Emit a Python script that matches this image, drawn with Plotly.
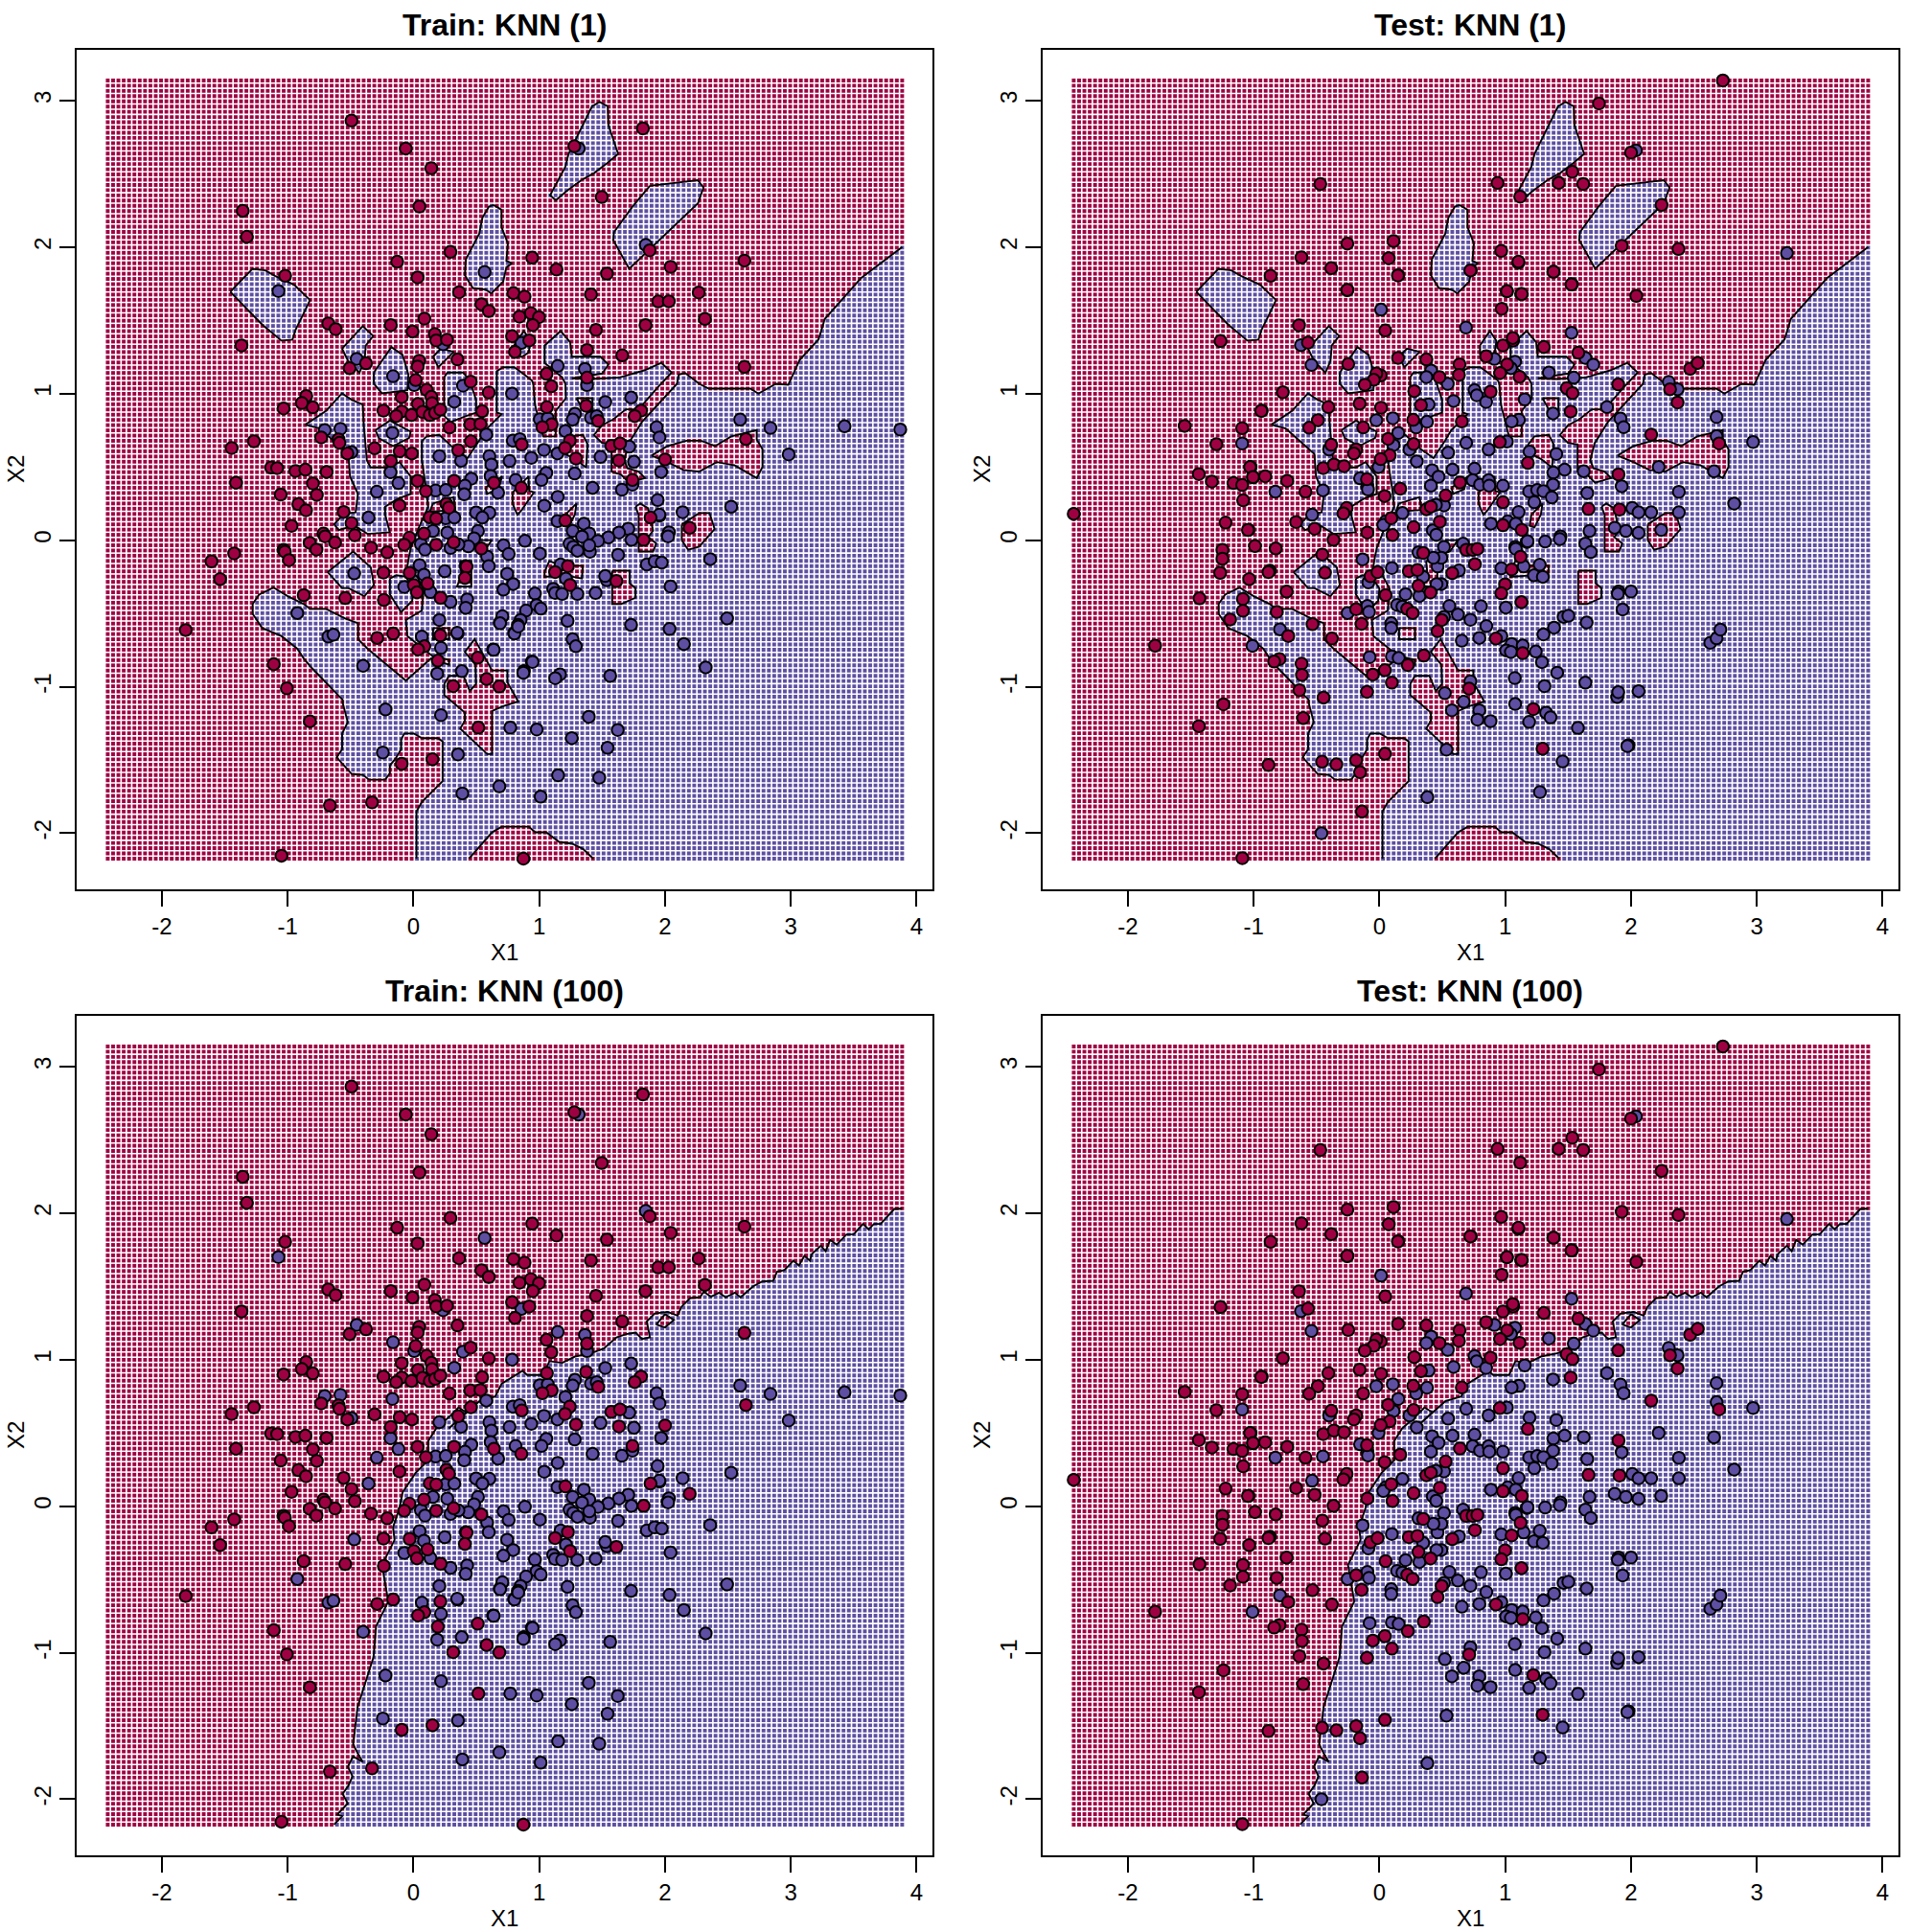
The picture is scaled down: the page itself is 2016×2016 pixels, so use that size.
import numpy as np
import plotly.graph_objects as go

RED = "#9E0142"
BLUE = "#5E4FA2"

TICKS_X = [-2, -1, 0, 1, 2, 3, 4]
TICKS_Y = [-2, -1, 0, 1, 2, 3]
TITLES = ["Train: KNN (1)", "Test: KNN (1)", "Train: KNN (100)", "Test: KNN (100)"]
XLABEL = "X1"
YLABEL = "X2"
GRID_X_LIMITS = (-2.43, 3.885)
GRID_Y_LIMITS = (-2.173, 3.137)
GRID_N = 150

TRAIN_RED = [
(.363,1.692),(.795,1.686),(.883,1.662),(1.411,1.677),(1.946,1.629),(2.03,1.63),(.541,1.61),(.599,1.564),(.087,1.512),(.843,1.525),
(.934,1.549),(.998,1.522),(.949,1.468),(-.677,1.479),(-.618,1.44),(-.18,1.468),(-.007,1.424),(.17,1.407),(.181,1.363),(.267,1.368),
(1.451,1.435),(1.845,1.468),(.784,1.392),(.921,1.363),(.807,1.285),(1.38,1.298),(1.66,1.261),(.35,1.233),(.046,1.224),(.034,1.185),
(-.377,1.207),(-.507,1.174),(1.058,1.135),(1.38,1.109),(.018,1.093),(.455,1.082),(1.096,1.05),(.599,1.008),(.105,1.026),(-.093,.976),
(-.852,.984),(-.887,.936),(-.8,.906),(.143,.978),(.148,.934),(.036,.93),(-.238,.884),(-.093,.878),(-.137,.847),(-.015,.854),
(.072,.875),(.13,.854),(.173,.869),(.214,.891),(.546,.88),(1.061,.908),(1.373,.917),(1.809,.884),(1.759,.847),(1.469,.814),
(.452,.79),(.533,.793),(.287,.769),(1.099,.79),(1.025,.771),(-.733,.701),(-.596,.688),(1.243,.679),(1.205,.629),(.457,.675),
(.861,.653),(-.309,.627),(-.525,.592),(-.109,.607),(-.012,.592),(.356,.614),(1.573,.644),(1.642,.66),(1.292,.557),(1.634,.544),
(2.0,.551),(-.18,.54),(-.938,.472),(-.859,.481),(-.69,.466),(-.799,.387),(-.768,.309),(.033,.405),(.323,.405),(.64,.392),
(.858,.357),(1.741,.411),(.099,.335),(.262,.248),(.282,.222),(-.111,.237),(-.915,.246),(-.854,.204),(-.555,.193),(-.492,.117),
(-.969,.098),(-.466,.034),(-.715,.045),(-.702,.026),(-.623,-.016),(-.824,-.018),(-.771,-.064),(-.337,-.051),(-.208,-.083),(.13,.156),
(.181,.148),(1.208,.135),(1.885,.154),(.084,.045),(-.032,.017),(-.073,-.031),(.181,-.031),(.32,-.014),(.54,-.057),(1.83,.002),
(.417,-.177),(1.228,-.177),(-.588,.664),
(-.492,2.863),(-.061,2.673),(.142,2.538),(-1.357,2.248),(.048,2.277),(-1.324,2.07),(.294,1.967),(.944,1.928),(-.129,1.9),(-1.02,1.804),
(.033,1.793),(-1.367,1.329),(1.279,2.688),(1.824,2.81),(1.497,2.342),(1.137,1.847),(1.538,1.819),(1.878,1.978),(2.045,1.865),(2.631,1.908),
(2.268,1.69),(2.317,1.51),(2.631,1.183),
(2.643,.69),(2.196,.084),(1.613,-.279),(1.245,-.306),(1.126,-.218),
(-1.11,-.846),(-1.006,-1.011),(-.823,-1.236),(-.288,-.667),(-.161,-.637),(.214,-.65),(.087,-.724),(.037,-.746),(.194,-.822),(.511,-.802),
(.582,-.948),(.683,-.998),(.316,-.996),(.516,-1.279),(-.093,-1.526),(.151,-1.495),(-.664,-1.811),(-.329,-1.789),(-1.049,-2.153),(.874,-2.173),
(-1.81,-.613),(-1.605,-.144),(-1.537,-.266),(-1.425,-.09),(-1.445,.629),(-1.268,.675),(-1.41,.392),(-1.131,.496),(-1.083,.492),(-1.055,.311),
(-1.032,-.066),(-1.022,-.079),(-.989,-.136),(-.872,-.375),(-.542,-.395),(-.235,-.408),(-.238,-.221),(-1.032,.899),
(.112,-.295),(-.03,-.223),(.003,-.306),(.028,-.356),(.216,-.393),(.422,-.181),(.409,-.258),
]

TRAIN_BLUE = [
(-.451,1.237),(-.162,1.119),(.006,1.058),(.236,1.337),(.858,1.346),(.394,1.054),(.784,1.0),(.325,.945),(1.147,1.189),(1.363,1.169),
(1.38,1.058),(1.525,.943),(1.731,.973),(-.705,.751),(-.58,.76),(-.167,.732),(-.492,.601),(1.005,.825),(1.068,.832),(1.284,.862),
(1.266,.823),(1.411,.836),(1.457,.847),(1.933,.771),(1.956,.701),(.579,.721),(.79,.679),(.845,.69),(1.208,.745),(1.038,.616),
(1.145,.592),(1.487,.568),(1.716,.638),(1.753,.535),(1.969,.466),(.206,.573),(.379,.542),(.604,.573),(.62,.516),(.764,.54),
(.937,.562),(.614,.438),(1.056,.459),(1.018,.411),(1.282,.455),(.46,.42),(.409,.372),(.404,.313),(.176,.339),(.257,.342),
(-.119,.39),(-.182,.464),(-.291,.331),(.812,.411),(.673,.324),(1.424,.357),(1.657,.344),(1.741,.379),(1.941,.274),(1.147,.296),
(1.04,.235),(-.357,.154),(.257,.15),(.325,.154),(.498,.189),(.604,.187),(.548,.154),(1.956,.167),(1.145,.13),(1.355,.113),
(1.266,.063),(1.708,.078),(1.634,.052),(2.02,.03),(1.398,.045),(1.34,.024),(1.55,.019),(1.467,-.005),(1.733,.002),(.886,-.004),
(1.241,-.024),(1.271,-.046),(1.304,-.072),(1.403,-.079),(1.398,-.035),(1.627,-.1),(1.005,-.092),(.716,-.035),(.757,-.094),(.513,.063),
(.482,.013),(.437,-.042),(.586,-.111),(.269,.052),(.155,.063),(.059,-.027),(.092,-.064),(.295,-.053),(.358,-.029),(.049,-.17),
(.599,-.177),(1.17,-.166),(1.855,-.166),(1.918,-.144),(1.974,-.153),
(-1.073,1.7),(.566,1.83),(1.314,2.673),(1.847,2.015),
(3.427,.777),(2.838,.766),(2.597,.823),(2.983,.585),(2.526,.228),(2.359,-.129),(2.493,-.534),(2.15,-.709),(2.036,-.606),(2.323,-.868),
(2.044,-.316),(2.14,.191),(2.031,.054),(2.024,.026),(1.955,.174),(1.73,-.578),(1.225,-.55),(1.448,-.36),(3.87,.755),
(1.537,-.273),(1.524,-.245),(1.111,-.332),(1.126,-.36),(1.182,-.367),(1.303,-.367),(1.212,-.262),(.966,-.364),(.979,-.443),(1.012,-.467),
(.895,-.48),(.852,-.545),(.831,-.578),(.801,-.632),(.687,-.563),(.707,-.519),(.745,-.229),(.793,-.299),(.715,-.338),(1.265,-.676),
(1.291,-.724),(.941,-.828),(.634,-.746),(.877,-.894),
(-.676,-.658),(-.636,-.645),(.067,-.658),(.219,-.735),(.351,-.637),(.638,-.748),(.803,-.637),(.833,-.589),(.689,-.567),(.947,-.831),
(.874,-.905),(1.165,-.916),(1.127,-.942),(1.564,-.926),(.189,-.911),(.384,-.894),(-.4,-.857),(-.222,-1.155),(.219,-1.194),(.77,-1.279),
(.98,-1.292),(1.259,-1.351),(1.394,-1.205),(1.624,-1.295),(1.543,-1.417),(-.243,-1.449),(.354,-1.462),(1.15,-1.604),(1.477,-1.621),(.683,-1.68),
(.389,-1.728),(1.011,-1.75),
(-.923,-.497),(-.471,-.227),(.206,-.545),(.348,-.632),(-.073,-.319),(.084,-.236),(.135,-.354),(.295,-.421),(.427,-.404),(.416,-.462),(.249,-.212),
]

TEST_RED = [
(-.865,1.804),(-.383,1.856),(.15,1.808),(.726,1.841),(1.104,1.893),(1.383,1.832),(1.53,1.747),(-.256,1.706),(1.013,1.699),(1.127,1.68),
(.972,1.579),(-.639,1.466),(.046,1.431),(-.568,1.348),(.982,1.329),(1.063,1.362),(1.307,1.318),(-.248,1.202),(.148,1.244),(.373,1.233),
(.637,1.2),(.632,1.128),(.848,1.255),(1.015,1.2),(.959,1.141),(1.114,1.115),(1.581,1.279),(.01,1.124),(-.025,1.137),(-.045,1.094),
(-.116,1.061),(.477,1.113),(.883,1.013),(.277,1.017),(-.768,1.009),(1.489,1.037),(1.535,1.004),(1.898,1.063),(-.157,.932),(.33,.921),
(-.406,.908),(.013,.904),(-.936,.884),(-.489,.819),(.269,.821),(-.558,.767),(-.129,.769),(.655,.81),(1.52,.878),(.069,.691),
(.272,.656),(.957,.669),(-.383,.651),(-.185,.619),(-.203,.592),(.082,.579),(.01,.553),(-1.024,.499),(-1.004,.429),(-.908,.436),
(-.446,.492),(-.362,.516),(-.281,.505),(1.18,.527),(-.733,.405),(-.099,.416),(-.588,.331),(.64,.394),(1.9,.449),(.165,.351),
(.041,.301),(.526,.305),(.982,.259),(1.662,.213),(1.908,.209),(-.261,.22),(-.286,.183),(.373,.211),(.409,.229),(.094,.15),
(-.662,.124),(-.515,.078),(.48,.126),(.272,.089),(.982,.102),(1.132,.07),(-.096,.052),(.104,.035),(-1.04,.07),(-.365,.002),
(-.989,-.04),(-.824,-.057),
(2.73,3.137),(1.745,2.98),(2.0,2.645),(1.533,2.514),(1.425,2.438),(1.62,2.431),(.939,2.438),(1.119,2.344),(2.243,2.288),(-.255,2.024),
(.112,2.041),(.074,1.924),(.147,1.806),(.968,1.974),(1.105,1.9),(.723,1.841),(1.384,1.832),(1.926,2.009),(2.377,1.987),(1.527,1.745),
(-.255,1.708),(1.014,1.699),(1.131,1.68),(2.042,1.667),(1.06,1.38),(-.62,1.93),(-.47,2.43),
(2.47,1.17),(2.53,1.21),(2.31,1.03),(2.37,.94),(2.16,.72),(2.7,.66),(-2.43,.18),
(-.454,-.098),(-.87,-.209),(-.882,-.218),(-.433,-.222),(-1.035,-.266),(-.738,-.351),(-.071,-.246),(-.015,-.218),(.049,-.375),(.234,-.211),
(.302,-.203),(.31,-.312),(.406,-.357),(.579,-.225),(.759,-.164),(.69,-.066),(.741,-.066),(.779,-.059),(.348,-.087),(1.122,-.113),
(1.051,-.2),(.999,-.301),(.969,-.362),(1.129,-.423),(-.185,-.471),(-.142,-.571),(.221,-.469),(.264,-.497),(-.816,-.49),(-.532,-.573),
(-.378,-.671),(-.725,-.654),(-.794,-.811),(-.837,-.828),(-.619,-.843),(-.616,-.92),(-.636,-1.024),(-.444,-1.074),(-.606,-1.214),(.495,-.545),
(.462,-.621),(.926,-.671),(1.139,-.771),(.353,-.787),(.226,-.852),(.043,-.887),(-.053,-.917),(.099,-.972),(-.099,-1.035),(.713,-1.013),
(1.223,-1.153),(1.297,-1.423),(.044,-1.458),(-.456,-1.512),(-.342,-1.53),(-.185,-1.501),(-.154,-1.584),(-.882,-1.534),(-.139,-1.852),
(-1.43,-.397),(-1.085,-.401),(-1.085,-.482),(-1.187,-.541),(-1.783,-.72),(-1.24,-1.12),(-1.435,-1.269),(-1.09,-2.17),
(-1.548,.78),(-1.296,.655),(-1.091,.764),(-1.263,1.359),(-1.436,.451),(-1.332,.4),(-1.028,.499),(-1.005,.431),(-1.16,.39),(-1.091,.377),
(-1.083,.272),(-1.223,.12),(-1.045,.07),(-1.248,-.066),(-1.248,-.127),(-1.266,-.223),(-.939,.882),
]

TEST_BLUE = [
(.013,1.573),(.688,1.451),(1.527,1.416),(-.624,1.331),(-.54,1.196),(.914,1.237),(1.078,1.218),(1.045,1.174),(1.347,1.144),(1.637,1.244),
(1.7,1.198),(1.545,1.109),(.411,1.157),(.373,1.113),(.543,1.067),(.756,1.024),(.774,.989),(.848,.943),(.589,.95),(1.155,.961),
(.391,.926),(1.809,.908),(1.38,.865),(1.109,.821),(1.051,.81),(1.916,.83),(1.941,.771),(-.025,.819),(.107,.832),(.378,.808),
(.292,.769),(.15,.732),(.112,.649),(.239,.619),(.69,.664),(1.013,.673),(.868,.619),(-.4,.619),(1.193,.605),(1.406,.588),
(.546,.597),(.297,.538),(-.007,.499),(.419,.477),(.47,.433),(.581,.481),(.756,.488),(1.472,.481),(1.624,.471),(1.383,.462),
(.741,.409),(.8,.379),(.868,.409),(.873,.372),(.409,.372),(.982,.372),(1.38,.379),(1.926,.368),(-.154,.422),(-.096,.368),
(-.091,.346),(-.827,.331),(-.449,.34),(1.19,.333),(1.254,.342),(1.304,.335),(1.37,.292),(1.231,.259),(1.652,.322),(.513,.237),
(.449,.242),(1.106,.192),(.183,.185),(-.535,.174),(.049,.128),(.031,.104),(.886,.113),(1.02,.128),(1.084,.113),(.424,.067),
(.452,.037),(1.67,.063),(1.87,.085),(1.959,.063),(1.439,.026),(1.434,.007),(1.317,-.009),(1.172,-.013),(1.079,-.046),(.665,-.024),
(.513,-.046),(1.637,-.024),
(2.039,2.66),(3.239,1.959),
(2.3,1.08),(2.97,.67),(2.68,.71),(2.68,.84),(2.37,1.03),(2.82,.25),(2.38,.19),
(2.01,.22),(2.06,.19),(2.16,.19),(2.38,.33),(2.66,.47),(2.06,.05),(2.24,.07),(1.9,-.35),(2.0,-.35),(2.63,-.7),(2.68,-.67),(2.71,-.61),
(2.06,-1.03),(1.89,-1.07),(1.98,-1.4),(2.22,.5),
(-.791,-.608),(-1.009,-.721),(-.134,-.131),(.099,-.19),(-.088,-.288),(.348,-.25),(.462,-.179),(.492,-.12),(.429,-.12),(.31,-.083),
(1.084,-.059),(1.177,-.007),(1.68,-.081),(.969,-.192),(.632,-.207),(1.147,-.179),(1.274,-.168),(1.228,-.24),(1.299,-.25),(.492,-.299),
(.454,-.299),(.208,-.368),(.318,-.381),(.14,-.442),(.183,-.453),(.556,-.449),(.624,-.508),(.807,-.451),(.723,-.543),(.513,-.523),
(1.005,-.46),(1.464,-.523),(1.502,-.516),(1.647,-.562),(1.895,-.366),(1.933,-.473),(1.388,-.597),(1.304,-.643),(.85,-.586),(.969,-.654),
(.794,-.667),(.655,-.686),(1.051,-.708),(1.139,-.719),(1.007,-.752),(1.045,-.763),(1.243,-.76),(1.292,-.832),(1.413,-.904),(1.076,-.941),
(1.312,-.996),(1.637,-.972),(1.898,-1.037),(.723,-.963),(.52,-1.044),(.67,-1.103),(.576,-1.161),(.794,-1.161),(.779,-1.225),(.883,-1.235),
(1.079,-1.118),(1.325,-1.177),(1.36,-1.209),(1.19,-1.24),(1.578,-1.281),(1.971,-1.405),(1.456,-1.51),(.533,-1.429),(1.276,-1.719),(.381,-1.754),
(-.078,-.798),(.094,-.567),(.094,-.599),(.099,-.793),(.153,-.804),(-.253,-.497),(-.096,-.449),(-.083,-.49),(-.461,-2.0),(-1.091,.66),
]

# KNN(1): boundary lines. Lines ending on the grid edge stay open.
KNN1_MAIN = [
(3.885,2.0),(3.56,1.79),(3.27,1.51),(3.22,1.37),(3.07,1.23),(2.98,1.06),(2.881,1.067),(2.742,1.0),(2.678,1.034),(2.348,1.034),
(2.272,1.067),(2.16,1.14),(2.11,1.13),(2.095,1.067),(1.816,.806),(1.765,.74),(1.71,.66),(1.676,.544),(1.702,.49),(1.79,.468),
(1.841,.424),(1.714,.392),(1.651,.446),(1.575,.468),(1.575,.653),(1.499,.664),(1.435,.718),(1.499,.784),(1.587,.823),(1.689,.893),
(1.79,.893),(1.944,1.045),(2.053,1.144),(1.97,1.21),(1.84,1.16),(1.64,1.11),(1.41,1.1),(1.26,1.105),(1.5,1.137),(1.55,1.198),
(1.487,1.252),(1.259,1.252),(1.246,1.35),(1.17,1.427),(1.043,1.329),(1.043,1.209),(1.183,1.111),(1.208,1.067),(1.212,.969),(1.131,.882),
(1.131,.708),(1.03,.708),(.966,.925),(.953,1.067),(.942,1.089),(.878,1.133),(.802,1.18),(.713,1.18),(.663,1.154),(.662,.871),
(.7,.86),(.57,.75),(.522,.68),(.43,.56),(.33,.62),(.206,.718),(.105,.708),(.067,.675),(.067,.544),(.105,.33),
(.117,.228),(.05,.1),(-.02,-.05),(-.035,-.11),(-.05,-.19),(.03,-.25),(.08,-.33),(.067,-.48),(-.06,-.545),(-.048,-.654),
(.03,-.71),(.15,-.79),(.283,-.817),(.283,-.85),(.14,-.807),(-.06,-.959),(-.364,-.741),(-.44,-.676),(-.44,-.567),(-.542,-.534),
(-.694,-.469),(-.821,-.469),(-.872,-.436),(-.999,-.382),(-1.113,-.323),(-1.227,-.371),(-1.278,-.436),(-1.278,-.502),(-1.202,-.6),(-1.05,-.654),
(-.923,-.741),(-.872,-.807),(-.808,-.872),(-.562,-1.09),(-.562,-1.112),(-.522,-1.242),(-.567,-1.319),(-.567,-1.428),(-.61,-1.482),(-.491,-1.595),
(-.402,-1.602),(-.352,-1.635),(-.225,-1.635),(-.187,-1.591),(-.187,-1.537),(-.144,-1.493),(-.098,-1.428),(-.098,-1.362),(-.073,-1.319),(.004,-1.319),
(.067,-1.351),(.194,-1.351),(.232,-1.373),(.232,-1.645),(.067,-1.787),(.024,-1.852),(.024,-2.173),
]
KNN1_MAIN_CLOSE = [(3.95,-2.25),(3.95,2.0)]
KNN1_DOME = [
(.442,-2.173),(.549,-2.07),(.625,-1.994),(.701,-1.955),(.917,-1.955),(.968,-1.994),(1.056,-1.994),(1.158,-2.059),(1.259,-2.07),(1.348,-2.107),(1.429,-2.173),
]
KNN1_CLOSED = [
[(-.859,.788),(-.695,.882),(-.568,1.002),(-.492,.958),(-.403,.925),(-.395,.784),(-.37,.544),(-.34,.496),(-.187,.496),(-.111,.533),(-.022,.435),(-.022,.315),(-.124,.283),(-.225,.228),(-.225,.174),(-.187,.054),(-.365,.043),(-.47,.1),(-.593,.069),(-.631,.108),(-.55,.18),(-.46,.19),(-.441,.315),(-.504,.435),(-.517,.588),(-.745,.762)],
[(-.682,-.218),(-.479,-.077),(-.339,-.186),(-.314,-.306),(-.39,-.382),(-.517,-.327),(-.568,-.327)],
[(-.301,.751),(-.187,.816),(-.022,.74),(-.035,.697),(-.162,.642),(-.276,.697)],
[(-1.456,1.695),(-1.279,1.852),(-1.177,1.841),(-1.101,1.804),(-.949,1.743),(-.822,1.638),(-.873,1.547),(-.936,1.438),(-.962,1.368),(-1.05,1.362),(-1.202,1.471)],
[(.637,2.287),(.7,2.255),(.7,2.135),(.751,2.026),(.739,1.906),(.784,1.889),(.739,1.862),(.713,1.764),(.619,1.684),(.574,1.71),(.472,1.721),(.409,1.808),(.417,1.917),(.523,2.091),(.548,2.2),(.6,2.276)],
[(1.233,2.636),(1.348,2.832),(1.42,2.96),(1.48,2.99),(1.545,2.96),(1.55,2.832),(1.589,2.734),(1.627,2.636),(1.538,2.571),(1.436,2.505),(1.335,2.457),(1.221,2.385),(1.132,2.32),(1.086,2.353),(1.208,2.549)],
[(1.88,2.418),(2.261,2.457),(2.306,2.407),(2.261,2.298),(1.715,1.852),(1.588,2.048),(1.594,2.102),(1.741,2.276)],
[(.155,1.252),(.219,1.307),(.32,1.285),(.198,1.18)],
[(.8,1.33),(.878,1.427),(.93,1.36),(.916,1.28),(.86,1.25),(.8,1.27)],
[(-.568,1.307),(-.403,1.46),(-.32,1.394),(-.378,1.329),(-.39,1.22),(-.429,1.144),(-.517,1.22)],
[(-.315,1.144),(-.175,1.318),(-.086,1.264),(-.04,1.13),(-.048,1.023),(-.25,1.002),(-.315,1.068)],
[(.244,1.111),(.27,1.144),(.396,1.144),(.447,1.089),(.498,.958),(.498,.87),(.43,.85),(.295,.806),(.244,.849)],
[(-.187,-.262),(-.136,-.24),(-.06,-.25),(.0,-.33),(-.01,-.414),(-.098,-.491),(-.187,-.37)],
[(1.892,.577),(2.019,.642),(2.171,.679),(2.285,.679),(2.399,.642),(2.526,.708),(2.729,.751),(2.729,.686),(2.775,.62),(2.775,.5),(2.729,.424),(2.551,.511),(2.412,.533),(2.272,.468),(2.146,.479),(2.019,.533)],
[(1.765,.228),(1.803,.25),(1.866,.217),(1.905,.065),(1.866,.021),(1.93,-.022),(1.905,-.077),(1.79,-.077),(1.79,.174)],
[(2.133,.108),(2.272,.185),(2.354,.185),(2.394,.076),(2.272,-.044),(2.184,-.066),(2.133,.0)],
[(1.58,-.208),(1.719,-.208),(1.719,-.295),(1.765,-.327),(1.765,-.393),(1.651,-.436),(1.58,-.436)],
[(.788,.326),(.915,.435),(.92,.337),(.958,.326),(.852,.196),(.826,.174),(.788,.25)],
[(.573,.359),(.705,.435),(.674,.348),(.585,.315)],
[(1.182,.653),(1.232,.708),(1.347,.718),(1.385,.653),(1.372,.496),(1.283,.555),(1.182,.599)],
[(1.207,.174),(1.296,.25),(1.283,.174),(1.232,.087),(1.194,.098)],
[(1.042,-.218),(1.08,-.142),(1.182,-.175),(1.347,-.175),(1.339,-.262),(1.207,-.24),(1.042,-.251)],
[(1.296,.969),(1.423,.969),(1.423,.882),(1.346,.893)],
[(.522,.0),(.623,.0),(.56,-.077),(.522,-.088)],
[(.245,-.981),(.283,-.926),(.397,-.926),(.448,-1.029),(.498,-.981),(.493,-.85),(.409,-.763),(.486,-.676),(.536,-.752),(.625,-.889),(.747,-.889),(.747,-.97),(.833,-1.101),(.714,-1.133),(.625,-1.166),(.625,-1.46),(.587,-1.46),(.372,-1.286),(.409,-1.232),(.409,-1.177),(.245,-1.057)],
[(.371,-.142),(.46,-.142),(.46,-.316),(.346,-.316),(.383,-.24)],
[(.155,.25),(.32,.294),(.333,.206),(.13,.195)],
[(.156,-.6),(.283,-.6),(.283,-.676),(.156,-.676)],
]

KNN100_MAIN = [
(3.885,2.03),(3.822,2.028),(3.714,1.926),(3.661,1.926),(3.618,1.889),(3.574,1.926),(3.5,1.856),(3.443,1.854),(3.364,1.784),(3.312,1.817),
(3.277,1.74),(3.239,1.778),(3.166,1.72),(3.152,1.675),(3.108,1.708),(3.064,1.643),(3.02,1.675),(2.948,1.61),(2.89,1.6),(2.86,1.538),
(2.773,1.534),(2.7,1.5),(2.6,1.425),(2.555,1.457),(2.482,1.425),(2.43,1.457),(2.365,1.429),(2.307,1.464),(2.278,1.425),(2.2,1.42),
(2.13,1.36),(2.1,1.3),(2.02,1.326),(1.918,1.315),(1.855,1.261),(1.88,1.152),(1.817,1.141),(1.766,1.185),(1.69,1.174),(1.614,1.152),
(1.513,1.076),(1.411,1.043),(1.284,1.021),(1.183,.978),(1.081,.989),(1.03,.895),(.904,.895),(.866,.923),(.701,.836),(.65,.749),
(.523,.716),(.282,.531),(.422,.64),(.358,.673),(.295,.618),(.181,.531),(.117,.444),(.117,.313),(.016,.226),(-.086,.095),
(-.111,-.014),(-.162,-.144),(-.15,-.23),(-.25,-.4),(-.2,-.65),(-.297,-.82),(-.317,-1.03),(-.444,-1.37),(-.479,-1.625),(-.441,-1.69),
(-.403,-1.745),(-.479,-1.708),(-.522,-1.778),(-.484,-1.843),(-.517,-1.908),(-.563,-1.963),(-.522,-2.028),(-.605,-2.104),(-.567,-2.115),(-.631,-2.173),
]
KNN100_MAIN_CLOSE = [(-.631,-2.25),(3.95,-2.25),(3.95,2.03)]
KNN100_HOLE = [(1.93,1.24),(2.0,1.22),(2.07,1.27),(2.0,1.31)]


def inside(px, py, poly):
    poly = np.asarray(poly, float)
    x1, y1 = poly[:, 0], poly[:, 1]
    x2, y2 = np.roll(x1, -1), np.roll(y1, -1)
    out = np.zeros(px.shape, bool)
    for a, b, c, d in zip(x1, y1, x2, y2):
        if b == d:
            continue
        hit = ((b > py) != (d > py)) & (px < (c - a) * (py - b) / (d - b) + a)
        out ^= hit
    return out


gx, gy = np.meshgrid(np.linspace(*GRID_X_LIMITS, GRID_N), np.linspace(*GRID_Y_LIMITS, GRID_N))
gx, gy = gx.ravel(), gy.ravel()

knn1_blue = inside(gx, gy, KNN1_MAIN + KNN1_MAIN_CLOSE)
knn1_blue ^= inside(gx, gy, KNN1_DOME)
for poly in KNN1_CLOSED:
    knn1_blue ^= inside(gx, gy, poly)
knn100_blue = inside(gx, gy, KNN100_MAIN + KNN100_MAIN_CLOSE)
knn100_blue ^= inside(gx, gy, KNN100_HOLE)


def line_xy(lines):
    xs, ys = [], []
    for ln in lines:
        xs += [p[0] for p in ln] + [None]
        ys += [p[1] for p in ln] + [None]
    return xs, ys


knn1_lines = line_xy([KNN1_MAIN, KNN1_DOME] + [p + p[:1] for p in KNN1_CLOSED])
knn100_lines = line_xy([KNN100_MAIN, KNN100_HOLE + KNN100_HOLE[:1]])

W = 2016.0
PANELS = [(80, 51.7), (1088, 51.7), (80, 1059.7), (1088, 1059.7)]
PW, PH = 892.5, 876.5
X_RANGE = [-2.677, 4.122]
Y_RANGE = [-2.384, 3.348]
FONT = "Liberation Sans"

fig = go.Figure()
annotations = []
layout = {}
for i, (left, top) in enumerate(PANELS):
    sfx = "" if i == 0 else str(i + 1)
    xa, ya = "x" + sfx, "y" + sfx
    is_train = i % 2 == 0
    blue_mask = knn1_blue if i < 2 else knn100_blue
    lines = knn1_lines if i < 2 else knn100_lines
    reds = TRAIN_RED if is_train else TEST_RED
    blues = TRAIN_BLUE if is_train else TEST_BLUE
    for mask, col in ((~blue_mask, RED), (blue_mask, BLUE)):
        fig.add_trace(go.Scatter(x=gx[mask], y=gy[mask], mode="markers", xaxis=xa, yaxis=ya,
                                 marker=dict(symbol="square", size=3.9, color=col, line_width=0),
                                 hoverinfo="skip", showlegend=False))
    fig.add_trace(go.Scatter(x=lines[0], y=lines[1], mode="lines", xaxis=xa, yaxis=ya,
                             line=dict(color="black", width=1.9), hoverinfo="skip", showlegend=False))
    for pts, col in ((blues, BLUE), (reds, RED)):
        fig.add_trace(go.Scatter(x=[p[0] for p in pts], y=[p[1] for p in pts], mode="markers",
                                 xaxis=xa, yaxis=ya,
                                 marker=dict(symbol="circle", size=12.5, color=col,
                                             line=dict(color="black", width=2)),
                                 hoverinfo="skip", showlegend=False))
    common = dict(showgrid=False, zeroline=False, showline=True, mirror=True, linecolor="black", linewidth=1.8,
                  ticks="outside", ticklen=16, tickwidth=1.7, tickcolor="black",
                  tickfont=dict(family=FONT, size=24, color="black"))
    layout["xaxis" + sfx] = dict(common, domain=[left / W, (left + PW) / W], range=X_RANGE, anchor=ya,
                                 tickvals=TICKS_X, ticktext=[str(t) for t in TICKS_X])
    layout["yaxis" + sfx] = dict(common, domain=[1 - (top + PH) / W, 1 - top / W], range=Y_RANGE, anchor=xa,
                                 tickvals=TICKS_Y, ticktext=[str(t) for t in TICKS_Y], tickangle=-90)
    cx = (left + PW / 2) / W
    annotations.append(dict(text="<b>%s</b>" % TITLES[i], x=cx, y=1 - (top - 26) / W, xref="paper", yref="paper",
                            showarrow=False, xanchor="center", yanchor="middle",
                            font=dict(family=FONT, size=32, color="black")))
    annotations.append(dict(text=XLABEL, x=cx, y=1 - (top + PH + 65) / W, xref="paper", yref="paper",
                            showarrow=False, xanchor="center", yanchor="middle",
                            font=dict(family=FONT, size=24, color="black")))
    annotations.append(dict(text=YLABEL, x=(left - 63) / W, y=1 - (top + PH / 2) / W, xref="paper", yref="paper",
                            showarrow=False, textangle=-90, xanchor="center", yanchor="middle",
                            font=dict(family=FONT, size=24, color="black")))

fig.update_layout(width=2016, height=2016, margin=dict(l=0, r=0, t=0, b=0), autosize=False,
                  paper_bgcolor="white", plot_bgcolor="white", showlegend=False,
                  annotations=annotations, **layout)
fig.write_html("out.html", config={"displayModeBar": False},
               post_script="document.body.style.margin='0';document.documentElement.style.overflow='hidden';")
